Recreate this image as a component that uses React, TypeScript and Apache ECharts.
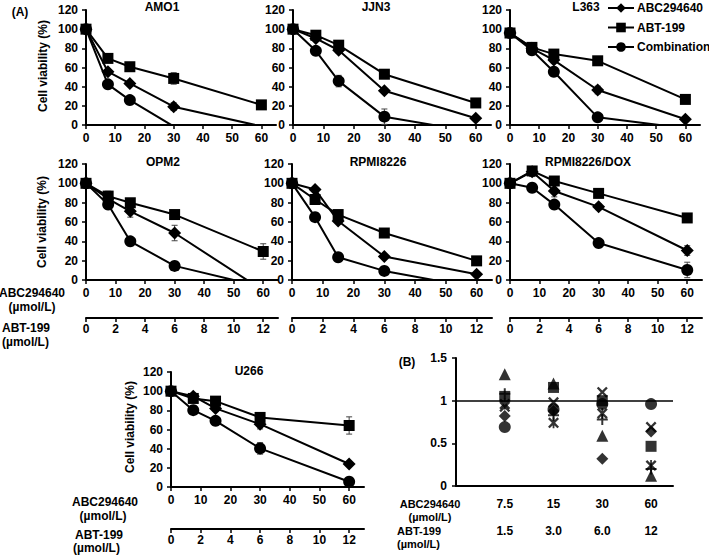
import React, { useEffect, useRef } from "react";
import * as echarts from "echarts";

// ---------- data ----------
const CONC_ABC = [0, 7.5, 15, 30, 60];
const ABC_TICKS = [0, 10, 20, 30, 40, 50, 60];
const ABT_TICKS = [0, 2, 4, 6, 8, 10, 12];
const VIAB_TICKS_MAX = 120;

const AMO1_ABC = [100, 55.6, 43.4, 19.1, -1.4];
const AMO1_ABT = [100, 69.5, 60.8, 48.6, 21];
const AMO1_COMB = [100, 42.4, 26, -1.5, -5];
const AMO1_ERR = [[0, 2, 2, 4, 0], [0, 2, 2, 6, 3], [0, 2, 2, 0, 0]];

const JJN3_ABC = [100, 90.3, 78, 35.8, 7];
const JJN3_ABT = [100, 93.7, 83.3, 53, 23];
const JJN3_COMB = [100, 77.4, 45.8, 8.7, -7.6];
const JJN3_ERR = [[0, 2, 3, 2, 2], [0, 2, 2, 4, 2], [0, 2, 6, 8, 0]];

const L363_ABC = [96, 80, 67.7, 36.5, 6];
const L363_ABT = [96, 81, 74, 67, 26.7];
const L363_COMB = [96, 78, 55.5, 8, -3.4];
const L363_ERR = [[0, 4, 3, 4, 2], [0, 4, 3, 2, 2], [0, 4, 3, 2, 0]];

const OPM2_ABC = [100, 84, 71, 48.6, -10.9];
const OPM2_ABT = [100, 86.8, 79.9, 67.7, 29.5];
const OPM2_COMB = [100, 78, 40, 14.6, -7.3];
const OPM2_ERR = [[0, 3, 6, 8, 0], [0, 5, 3, 3, 8], [0, 2, 2, 2, 0]];

const RPMI_ABC = [100, 93.7, 61, 24.3, 6];
const RPMI_ABT = [100, 83.3, 67.7, 48.6, 19.8];
const RPMI_COMB = [100, 65, 23.6, 9.4, -8.2];
const RPMI_ERR = [[0, 2, 2, 2, 2], [0, 2, 2, 2, 2], [0, 2, 2, 2, 0]];

const DOX_ABC = [100, 112, 92, 75.7, 30.5];
const DOX_ABT = [100, 112.8, 102.4, 89.6, 64.2];
const DOX_COMB = [100, 95.5, 78, 38.2, 10.4];
const DOX_ERR = [[0, 5, 6, 3, 5], [0, 4, 4, 2, 3], [0, 2, 3, 2, 8]];

const U266_ABC = [100, 94.8, 82, 65.6, 24];
const U266_ABT = [100, 92.4, 89.6, 72.6, 64.2];
const U266_COMB = [100, 80.2, 69, 40.3, 5.5];
const U266_ERR = [[0, 3, 3, 5, 2], [0, 3, 3, 4, 9], [0, 2, 4, 6, 3]];

const SERIES_NAMES = ["ABC294640", "ABT-199", "Combination"];

// Panel (B): combination index
const B_ABC_LABELS = ["7.5", "15", "30", "60"];
const B_ABT_LABELS = ["1.5", "3.0", "6.0", "12"];
const B_POS = [1, 2, 3, 4];
const B_TRIANGLE = [1.31, 1.2, 0.59, 0.12];
const B_SQUARE = [1.05, 1.155, 1.0, 0.465];
const B_CIRCLE = [0.69, 0.9, 0.96, 0.96];
const B_DIAMOND = [0.82, 0.88, 0.32, 0.64];
const B_CROSS = [0.93, 0.98, 1.1, 0.69];
const B_ASTER = [0.96, 0.74, 0.85, 0.24];
const B_PLUS = [1.08, 0.83, 0.78, 0.2];

// ---------- styling ----------
const FONT = "'Liberation Sans', Arial, Helvetica, sans-serif";
const BLACK = "#000";
const SYMBOLS = ["diamond", "rect", "circle"];
const SYMBOL_SIZES = [13, 11, 12];

const X_PATH = "path://M0,1.5L1.5,0L5,3.5L8.5,0L10,1.5L6.5,5L10,8.5L8.5,10L5,6.5L1.5,10L0,8.5L3.5,5Z";
const ASTER_PATH = "path://M0,1.5L1.5,0L5,3.5L8.5,0L10,1.5L6.5,5L10,8.5L8.5,10L5,6.5L1.5,10L0,8.5L3.5,5Z M4.2,0L5.8,0L5.8,10L4.2,10Z";
const PLUS_PATH = "path://M4.1,0L5.9,0L5.9,4.1L10,4.1L10,5.9L5.9,5.9L5.9,10L4.1,10L4.1,5.9L0,5.9L0,4.1L4.1,4.1Z";

const PANELS = [
  { title: "AMO1", vals: [AMO1_ABC, AMO1_ABT, AMO1_COMB], err: AMO1_ERR, box: { left: 86, top: 10, width: 190, height: 115 }, titleX: 162, titleY: 1, abtOffset: 0 },
  { title: "JJN3", vals: [JJN3_ABC, JJN3_ABT, JJN3_COMB], err: JJN3_ERR, box: { left: 293, top: 10, width: 198, height: 115 }, titleX: 376, titleY: 1, abtOffset: 0 },
  { title: "L363", vals: [L363_ABC, L363_ABT, L363_COMB], err: L363_ERR, box: { left: 510, top: 10, width: 190, height: 115 }, titleX: 586, titleY: 1, abtOffset: 0 },
  { title: "OPM2", vals: [OPM2_ABC, OPM2_ABT, OPM2_COMB], err: OPM2_ERR, box: { left: 86, top: 164, width: 192, height: 116 }, titleX: 163, titleY: 156, abtOffset: 38 },
  { title: "RPMI8226", vals: [RPMI_ABC, RPMI_ABT, RPMI_COMB], err: RPMI_ERR, box: { left: 292, top: 164, width: 200, height: 116 }, titleX: 378, titleY: 156, abtOffset: 38 },
  { title: "RPMI8226/DOX", vals: [DOX_ABC, DOX_ABT, DOX_COMB], err: DOX_ERR, box: { left: 510, top: 164, width: 192, height: 116 }, titleX: 588, titleY: 156, abtOffset: 38 },
  { title: "U266", vals: [U266_ABC, U266_ABT, U266_COMB], err: U266_ERR, box: { left: 171, top: 372, width: 193, height: 115 }, titleX: 249, titleY: 365, abtOffset: 42 },
];

const labelStyle = { color: BLACK, fontSize: 12, fontWeight: "bold" as const, fontFamily: FONT };
const axisLineStyle = { show: true, lineStyle: { color: BLACK, width: 2 } };

function buildOption() {
  const grid: any[] = [];
  const xAxis: any[] = [];
  const yAxis: any[] = [];
  const series: any[] = [];
  const title: any[] = [];

  PANELS.forEach((p) => {
    const gi = grid.length;
    grid.push({ ...p.box, containLabel: false });
    title.push({ text: p.title, left: p.titleX, top: p.titleY, textAlign: "center", padding: 0, textStyle: { ...labelStyle } });
    const xi = xAxis.length;
    xAxis.push({
      gridIndex: gi, type: "value", min: 0, max: 65,
      axisLine: axisLineStyle,
      axisTick: { show: true, customValues: ABC_TICKS, length: 4, lineStyle: { color: BLACK, width: 1.5 } },
      axisLabel: { ...labelStyle, customValues: ABC_TICKS, margin: 7 },
      splitLine: { show: false },
    });
    if (p.abtOffset) {
      xAxis.push({
        gridIndex: gi, type: "value", position: "bottom", offset: p.abtOffset, min: 0, max: 13,
        axisLine: axisLineStyle,
        axisTick: { show: true, customValues: ABT_TICKS, length: 4, lineStyle: { color: BLACK, width: 1.5 } },
        axisLabel: { ...labelStyle, customValues: ABT_TICKS, margin: 5 },
        splitLine: { show: false },
      });
    }
    const yi = yAxis.length;
    yAxis.push({
      gridIndex: gi, type: "value", min: 0, max: VIAB_TICKS_MAX, interval: 20,
      axisLine: axisLineStyle,
      axisTick: { show: true, length: 4, lineStyle: { color: BLACK, width: 1.5 } },
      axisLabel: { ...labelStyle, margin: 8 },
      splitLine: { show: false },
    });
    p.vals.forEach((v, k) => {
      series.push({
        type: "custom", name: SERIES_NAMES[k] + " err", xAxisIndex: xi, yAxisIndex: yi, clip: true, z: 1,
        data: CONC_ABC.map((x, i) => [x, v[i], p.err[k][i]]),
        encode: { x: 0, y: 1 },
        renderItem: (params: any, api: any) => {
          const x = api.value(0), y = api.value(1), e = api.value(2);
          if (!e) return null;
          const t = api.coord([x, y + e]);
          const b = api.coord([x, y - e]);
          const st = { stroke: "#444", lineWidth: 1 };
          return {
            type: "group",
            children: [
              { type: "line", shape: { x1: t[0], y1: t[1], x2: b[0], y2: b[1] }, style: st },
              { type: "line", shape: { x1: t[0] - 3, y1: t[1], x2: t[0] + 3, y2: t[1] }, style: st },
              { type: "line", shape: { x1: b[0] - 3, y1: b[1], x2: b[0] + 3, y2: b[1] }, style: st },
            ],
          };
        },
      });
      series.push({
        type: "line", name: SERIES_NAMES[k], xAxisIndex: xi, yAxisIndex: yi, clip: true, z: 3,
        data: CONC_ABC.map((x, i) => [x, v[i]]),
        symbol: SYMBOLS[k], symbolSize: SYMBOL_SIZES[k],
        lineStyle: { color: BLACK, width: 2 },
        itemStyle: { color: BLACK },
      });
    });
  });

  // Panel B
  const gB = grid.length;
  grid.push({ left: 456, top: 358, width: 217, height: 128, containLabel: false });
  const xB = xAxis.length;
  xAxis.push({
    gridIndex: gB, type: "value", min: 0, max: 4.45,
    axisLine: axisLineStyle, axisTick: { show: false },
    axisLabel: { ...labelStyle, customValues: B_POS, margin: 12, formatter: (v: number) => B_ABC_LABELS[Math.round(v) - 1] ?? "" },
    splitLine: { show: false },
  });
  xAxis.push({
    gridIndex: gB, type: "value", position: "bottom", offset: 27, min: 0, max: 4.45,
    axisLine: { show: false }, axisTick: { show: false },
    axisLabel: { ...labelStyle, customValues: B_POS, margin: 12, formatter: (v: number) => B_ABT_LABELS[Math.round(v) - 1] ?? "" },
    splitLine: { show: false },
  });
  const yB = yAxis.length;
  yAxis.push({
    gridIndex: gB, type: "value", min: 0, max: 1.5, interval: 0.5,
    axisLine: axisLineStyle,
    axisTick: { show: true, length: 4, lineStyle: { color: BLACK, width: 1.5 } },
    axisLabel: { ...labelStyle, margin: 9 },
    splitLine: { show: false },
  });
  const bSets: [string, number[], string, number][] = [
    ["L363", B_TRIANGLE, "triangle", 12],
    ["JJN3", B_SQUARE, "rect", 11],
    ["RPMI8226/DOX", B_CIRCLE, "circle", 12],
    ["AMO1", B_DIAMOND, "diamond", 12],
    ["OPM2", B_CROSS, X_PATH, 11],
    ["RPMI8226", B_ASTER, ASTER_PATH, 11],
    ["U266", B_PLUS, PLUS_PATH, 11],
  ];
  bSets.forEach(([name, vals, sym, size], k) => {
    series.push({
      type: "scatter", name, xAxisIndex: xB, yAxisIndex: yB, z: 3,
      data: B_POS.map((x, i) => [x, vals[i]]),
      symbol: sym, symbolSize: size,
      itemStyle: { color: BLACK },
      ...(k === 0
        ? {
            markLine: {
              silent: true, symbol: "none", label: { show: false }, z: 2,
              lineStyle: { color: BLACK, width: 1.5, type: "solid" },
              data: [[{ coord: [0, 1] }, { coord: [4.45, 1] }]],
            },
          }
        : {}),
    });
  });

  const txt = (text: string, x: number, y: number, align = "center", extra: any = {}, size = 12) => ({
    type: "text", x, y, ...extra,
    style: { text, fill: BLACK, fontSize: size, fontWeight: "bold", fontFamily: FONT, align, verticalAlign: "middle" },
  });

  const graphic = [
    txt("(A)", 20, 12),
    txt("(B)", 407, 362),
    txt("Cell viability (%)", 43, 66, "center", { rotation: Math.PI / 2 }),
    txt("Cell viability (%)", 42, 222, "center", { rotation: Math.PI / 2 }),
    txt("Cell viability (%)", 130, 427, "center", { rotation: Math.PI / 2 }),
    txt("ABC294640", 32, 293),
    txt("(µmol/L)", 32, 307),
    txt("ABT-199", 2, 328, "left"),
    txt("(µmol/L)", 2, 342, "left"),
    txt("ABC294640", 105, 502),
    txt("(µmol/L)", 103, 516),
    txt("ABT-199", 75, 535, "left"),
    txt("(µmol/L)", 73, 548, "left"),
    txt("ABC294640", 430, 504, "center", {}, 11),
    txt("(µmol/L)", 430, 516.5, "center", {}, 11),
    txt("ABT-199", 397, 531, "left", {}, 11),
    txt("(µmol/L)", 397, 543.5, "left", {}, 11),
  ];

  return {
    animation: false,
    backgroundColor: "#fff",
    textStyle: { fontFamily: FONT },
    title,
    legend: {
      data: SERIES_NAMES, orient: "vertical", left: 607, top: 2, padding: 0,
      itemWidth: 26, itemHeight: 12, itemGap: 7.5,
      textStyle: { ...labelStyle, padding: [0, 0, 0, -2] },
    },
    grid, xAxis, yAxis, series, graphic,
  };
}

export default function App() {
  const ref = useRef<HTMLDivElement>(null);
  useEffect(() => {
    if (!ref.current) return;
    const chart = echarts.init(ref.current, undefined, { renderer: "svg" });
    chart.setOption(buildOption() as any);
    return () => chart.dispose();
  }, []);
  return <div ref={ref} style={{ width: 709, height: 556, position: "absolute", left: 0, top: 0 }} />;
}
